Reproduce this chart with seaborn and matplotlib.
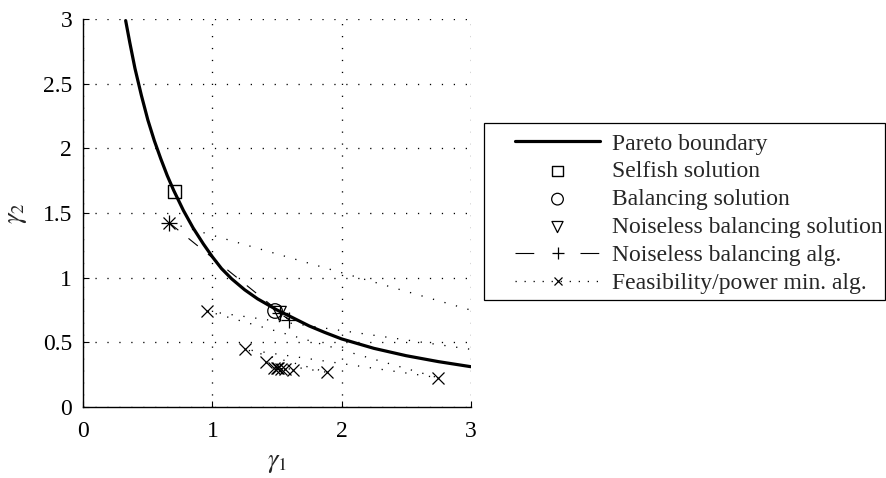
import matplotlib
matplotlib.use("Agg")
import matplotlib.pyplot as plt
from matplotlib.lines import Line2D
from matplotlib.patches import Rectangle
import seaborn as sns

# Pareto boundary of the achievable SINR region
pareto_g1 = [0.328, 0.360, 0.400, 0.450, 0.500, 0.550, 0.600, 0.650, 0.700, 0.775,
             0.850, 0.930, 1.000, 1.070, 1.149, 1.250, 1.350, 1.500, 1.620, 1.750,
             1.870, 2.000, 2.250, 2.500, 2.750, 3.000]
pareto_g2 = [2.990, 2.820, 2.620, 2.410, 2.220, 2.060, 1.920, 1.790, 1.675, 1.520,
             1.385, 1.260, 1.160, 1.070, 0.990, 0.905, 0.835, 0.749, 0.690, 0.625,
             0.575, 0.525, 0.452, 0.395, 0.349, 0.310]

# Characteristic operating points
selfish = (0.705, 1.665)
balancing = (1.485, 0.741)
noiseless_balancing = (1.518, 0.723)

# Iterates of the noiseless balancing algorithm
nb_alg_g1 = [0.664, 1.596, 1.520]
nb_alg_g2 = [1.425, 0.672, 0.725]

# Iterates of the feasibility / power minimisation algorithm
fp_alg_g1 = [0.664, 5.10, 0.955, 2.745, 1.252, 1.890, 1.415, 1.622, 1.480, 1.560, 1.500, 1.530, 1.510]
fp_alg_g2 = [1.425, 0.140, 0.741, 0.225, 0.444, 0.266, 0.343, 0.285, 0.300, 0.292, 0.297, 0.295, 0.296]

x_ticks = [0, 1, 2, 3]
y_ticks = [0, 0.5, 1, 1.5, 2, 2.5, 3]
y_tick_labels = ["0", "0.5", "1", "1.5", "2", "2.5", "3"]

legend_labels = ["Pareto boundary", "Selfish solution", "Balancing solution",
                 "Noiseless balancing solution", "Noiseless balancing alg.",
                 "Feasibility/power min. alg."]

sns.set_theme(style="white")
plt.rcParams["font.family"] = ["Liberation Serif", "DejaVu Serif"]
plt.rcParams["mathtext.fontset"] = "stix"
plt.rcParams["lines.scale_dashes"] = False

W, H = 887, 478
fig = plt.figure(figsize=(W / 100, H / 100), dpi=100)
ax = fig.add_axes([83.3 / W, 1 - 406.7 / H, 387.4 / W, 387.4 / H])

dots = (0, (0.9, 7.7))
dashes = (0, (8.6, 9.4))

sns.lineplot(x=pareto_g1, y=pareto_g2, ax=ax, color="black", linewidth=2.3,
             sort=False, estimator=None, legend=False)
h_pareto = ax.lines[-1]

sns.lineplot(x=fp_alg_g1, y=fp_alg_g2, ax=ax, color="black", linewidth=0.95,
             linestyle=dots, sort=False, estimator=None, legend=False)
h_fp = ax.lines[-1]
h_fp.set_marker("x")
h_fp.set_markersize(8.5)
h_fp.set_markeredgewidth(0.9)
h_fp.set_markeredgecolor("black")

sns.lineplot(x=nb_alg_g1, y=nb_alg_g2, ax=ax, color="black", linewidth=0.8,
             linestyle=dashes, sort=False, estimator=None, legend=False)
h_nb = ax.lines[-1]
h_nb.set_marker("+")
h_nb.set_markersize(11)
h_nb.set_markeredgewidth(0.9)
h_nb.set_markeredgecolor("black")

sns.scatterplot(x=[selfish[0]], y=[selfish[1]], ax=ax, marker="s", s=85,
                facecolor="none", edgecolor="black", linewidth=1.0, legend=False)
h_self = ax.collections[-1]
sns.scatterplot(x=[balancing[0]], y=[balancing[1]], ax=ax, marker="o", s=110,
                facecolor="none", edgecolor="black", linewidth=0.9, legend=False)
h_bal = ax.collections[-1]
sns.scatterplot(x=[noiseless_balancing[0]], y=[noiseless_balancing[1]], ax=ax,
                marker="v", s=100, facecolor="none", edgecolor="black",
                linewidth=0.9, legend=False)
h_nbs = ax.collections[-1]

ax.set_xlim(0, 3)
ax.set_ylim(0, 3)
ax.set_xticks(x_ticks)
ax.set_xticklabels([str(t) for t in x_ticks])
ax.set_yticks(y_ticks)
ax.set_yticklabels(y_tick_labels)

ax.grid(True, color="black", linestyle=dots, linewidth=0.95)
for side in ("top", "right"):
    ax.spines[side].set_visible(False)
for side in ("left", "bottom"):
    ax.spines[side].set_color("black")
    ax.spines[side].set_linewidth(1.0)

ax.tick_params(axis="both", direction="in", length=4, width=0.8, color="black",
               labelsize=17, labelcolor="black", left=True, bottom=True)
ax.tick_params(axis="y", pad=8)
ax.tick_params(axis="x", pad=10)

ax.set_xlabel(r"$\gamma_1$", fontsize=19, labelpad=8)
ax.set_ylabel(r"$\gamma_2$", fontsize=19, labelpad=10)

# Legend keys for the two algorithms: sparse dashes/dots either side of the marker
nb_key = Line2D([], [], color="black", linewidth=0.8, linestyle=(0, (13.5, 33.3)),
                marker="+", markersize=11, markeredgewidth=0.9)
fp_key = Line2D([], [], color="black", linewidth=0.95, linestyle=(0, (0.9, 5.6)),
                marker="x", markersize=8, markeredgewidth=0.9)

handles = [h_pareto, h_self, h_bal, h_nbs, nb_key, fp_key]
leg = fig.legend(handles, legend_labels, loc="upper left",
                 bbox_to_anchor=(515 / W, 1 - 133 / H), bbox_transform=fig.transFigure,
                 fontsize=17, frameon=False, borderpad=0, borderaxespad=0,
                 handlelength=3.6, handletextpad=0.5, labelspacing=0.27,
                 numpoints=1, scatterpoints=1, markerscale=0.8)
fig.patches.append(Rectangle((484 / W, 1 - 300 / H), (885 - 484) / W, (300 - 123) / H,
                             transform=fig.transFigure, fill=False,
                             edgecolor="black", linewidth=0.9))

fig.savefig("out.png", dpi=100)
